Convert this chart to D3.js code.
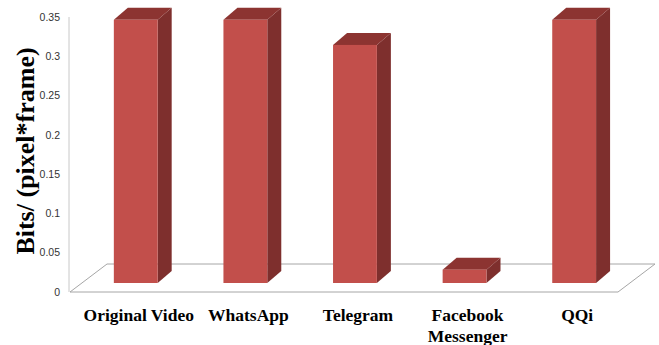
<!DOCTYPE html>
<html>
<head>
<meta charset="utf-8">
<script src="https://cdn.jsdelivr.net/npm/d3@7"></script>
<style>
  body { margin: 0; background: #fff; }
  svg { display: block; }
  .tick-label { font-family: "Liberation Sans", Arial, sans-serif; font-size: 10.5px; fill: #333; }
  .cat-label { font-family: "Liberation Serif", "Times New Roman", serif; font-size: 17.5px; font-weight: bold; fill: #000; }
  .y-title { font-family: "Liberation Serif", "Times New Roman", serif; font-size: 26px; font-weight: bold; fill: #000; }
</style>
</head>
<body>
<svg id="chart" width="659" height="345"></svg>
<script>
const categories = ['Original Video', 'WhatsApp', 'Telegram', 'Facebook|Messenger', 'QQi'];
const values = [0.335, 0.335, 0.303, 0.017, 0.335];
const tickValues = [0, 0.05, 0.1, 0.15, 0.2, 0.25, 0.3, 0.35];
const tickLabels = ['0', '0.05', '0.1', '0.15', '0.2', '0.25', '0.3', '0.35'];

const svg = d3.select('#chart');

// floor geometry
const floorLeft = 70, floorRight = 618, floorFront = 292;
const floorDx = 37, floorDy = -28;
const barBase = 283;
const depthX = 14, depthY = -12;

const x = d3.scaleBand().domain(categories).range([floorLeft, floorRight]);
const yAxis = d3.scaleLinear().domain([0, 0.35]).range([floorFront, 17]);
const yBar = d3.scaleLinear().domain([0, 0.35]).range([barBase, barBase - 275]);

// axis line
svg.append('line')
  .attr('x1', floorLeft - 1).attr('x2', floorLeft - 1)
  .attr('y1', yAxis(0.35)).attr('y2', yAxis(0))
  .attr('stroke', '#c8c8c8').attr('stroke-width', 1);

// tick labels
svg.selectAll('.tick-label')
  .data(tickValues)
  .enter().append('text')
  .attr('class', 'tick-label')
  .attr('x', 60)
  .attr('y', d => yAxis(d))
  .attr('dy', '0.35em')
  .attr('text-anchor', 'end')
  .text((d, i) => tickLabels[i]);

// floor outline
const floorPts = [
  [floorLeft, floorFront],
  [floorRight, floorFront],
  [floorRight + floorDx, floorFront + floorDy],
  [floorLeft + floorDx, floorFront + floorDy]
];
svg.append('polygon')
  .attr('points', floorPts.map(p => p.join(',')).join(' '))
  .attr('fill', 'none')
  .attr('stroke', '#a6a6a6')
  .attr('stroke-width', 1);

// bars
const bw = x.bandwidth() * 0.4;
const bars = svg.selectAll('.bar')
  .data(categories.map((c, i) => ({ c, v: values[i] })))
  .enter().append('g')
  .attr('class', 'bar');

bars.append('polygon') // side
  .attr('fill', '#7e2f2d')
  .attr('points', d => {
    const x1 = x(d.c) + x.bandwidth() * 0.4 + bw;
    const t = yBar(d.v);
    return [[x1, t], [x1 + depthX, t + depthY], [x1 + depthX, barBase + depthY], [x1, barBase]]
      .map(p => p.join(',')).join(' ');
  });

bars.append('polygon') // top
  .attr('fill', '#8c3431')
  .attr('points', d => {
    const x0 = x(d.c) + x.bandwidth() * 0.4;
    const t = yBar(d.v);
    return [[x0, t], [x0 + bw, t], [x0 + bw + depthX, t + depthY], [x0 + depthX, t + depthY]]
      .map(p => p.join(',')).join(' ');
  });

bars.append('rect') // front
  .attr('fill', '#c24f4b')
  .attr('x', d => x(d.c) + x.bandwidth() * 0.4)
  .attr('width', bw)
  .attr('y', d => yBar(d.v))
  .attr('height', d => barBase - yBar(d.v));

// category labels
const labels = svg.selectAll('.cat-label')
  .data(categories)
  .enter().append('text')
  .attr('class', 'cat-label')
  .attr('text-anchor', 'middle')
  .attr('x', d => x(d) + x.bandwidth() / 2 + 14)
  .attr('y', 321);

labels.selectAll('tspan')
  .data(d => d.split('|'))
  .enter().append('tspan')
  .attr('x', function () { return d3.select(this.parentNode).attr('x'); })
  .attr('dy', (d, i) => i === 0 ? 0 : 21)
  .text(d => d);

// y title
svg.append('text')
  .attr('class', 'y-title')
  .attr('transform', 'translate(34,151) rotate(-90)')
  .attr('text-anchor', 'middle')
  .text('Bits/ (pixel*frame)');
</script>
</body>
</html>
